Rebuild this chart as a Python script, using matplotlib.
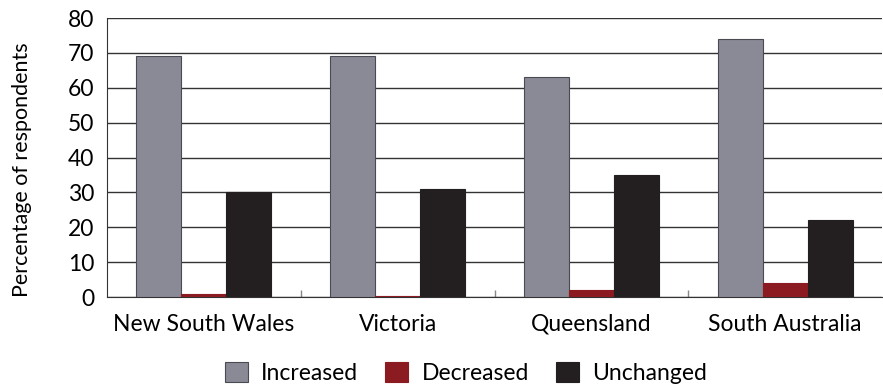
import numpy as np
import matplotlib
matplotlib.use('Agg')
import matplotlib.pyplot as plt

plt.rcParams['font.family'] = ['Lato', 'DejaVu Sans']

states = ['New South Wales', 'Victoria', 'Queensland', 'South Australia']
increased = [69, 69, 63, 74]
decreased = [1, 0.3, 2, 4]
unchanged = [30, 31, 35, 22]

series = [
    ('Increased', increased, '#8a8a96'),
    ('Decreased', decreased, '#8b1a21'),
    ('Unchanged', unchanged, '#231f20'),
]

fig = plt.figure(figsize=(8.83, 3.88), dpi=100)
ax = fig.add_axes([0.1212, 0.2345, 0.8778, 0.7191])

x = np.arange(len(states))
w = 0.232
for i, (name, vals, col) in enumerate(series):
    ax.bar(x + (i - 1) * w, vals, w, color=col, edgecolor='#4a4a52' if i == 0 else col,
           linewidth=0.8, label=name, zorder=3)

ax.set_xlim(-0.5, 3.5)
ax.set_ylim(0, 80)
ax.set_yticks(range(0, 81, 10))
ax.yaxis.grid(True, color='#333333', linewidth=1.0, zorder=0)
ax.set_axisbelow(True)

# category separators as small inner ticks
ax.set_xticks([0.5, 1.5, 2.5], minor=True)
ax.tick_params(axis='x', which='minor', direction='in', length=5, color='#888888', width=1)
ax.set_xticks(x)
ax.set_xticklabels(states, fontsize=16.5)
ax.tick_params(axis='x', which='major', length=0, pad=12)
ax.tick_params(axis='y', length=0, labelsize=16.5, pad=9)

for s in ['top', 'right']:
    ax.spines[s].set_visible(False)
ax.spines['left'].set_color('#333333')
ax.spines['bottom'].set_color('#333333')

ax.set_ylabel('Percentage of respondents', fontsize=15.5)
ax.yaxis.set_label_coords(-0.097, 0.455)

fig.legend(loc='center', bbox_to_anchor=(466 / 883, 1 - 373 / 388), ncol=3,
           frameon=False, fontsize=16.5, handlelength=1.0, handleheight=1.0,
           columnspacing=1.2, handletextpad=0.57)

fig.savefig('out.png', dpi=100)
